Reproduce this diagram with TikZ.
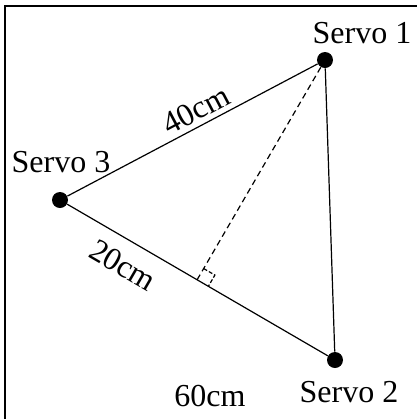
\documentclass[tikz,border=0pt]{standalone}
\usepackage{fontspec}
\setmainfont{Liberation Serif}
\usetikzlibrary{calc}

\begin{document}
\begin{tikzpicture}[
    x=0.5pt, y=-0.5pt,
    servo/.style={circle, fill=black, inner sep=0pt, minimum size=8pt},
    lbl/.style={font=\fontsize{16}{19}\selectfont, inner sep=0pt},
    side/.style={line width=0.6pt},
    drop/.style={line width=0.6pt, dash pattern=on 3pt off 2pt},
]
\useasboundingbox (0,0) rectangle (417,419);
% Frame
\draw[line width=1pt] (5,419) -- (5,6) -- (417,6);

% Servos
\node[servo] (s1) at (325,60) {};
\node[servo] (s2) at (335,360) {};
\node[servo] (s3) at (60,200) {};

\node[lbl, anchor=base] (n1) at (362,43) {Servo 1};
\node[lbl, anchor=base] (n2) at (349,402) {Servo 2};
\node[lbl, anchor=base] (n3) at (61,172) {Servo 3};

% Sides
\draw[side] (s3) -- (s1);
\draw[side] (s3) -- (s2);
\draw[side] (s1) -- (s2);

% Perpendicular
\coordinate (foot) at ($(s3)!(s1)!(s2)$);
\draw[drop] (s1) -- (foot);
\coordinate (ma) at ($(foot)!6.5pt!(s1)$);
\coordinate (mb) at ($(foot)!6.5pt!(s2)$);
\draw[drop, dash pattern=on 2pt off 1pt] (ma) -- ($(ma)+(mb)-(foot)$) -- (mb);

% Lengths
\node[lbl, rotate=27.85] (l40) at (196,110) {40cm};
\node[lbl, rotate=-30.2] (l20) at (123,265) {20cm};
\node[lbl, anchor=base] (l60) at (210,406) {60cm};
\end{tikzpicture}
\end{document}
